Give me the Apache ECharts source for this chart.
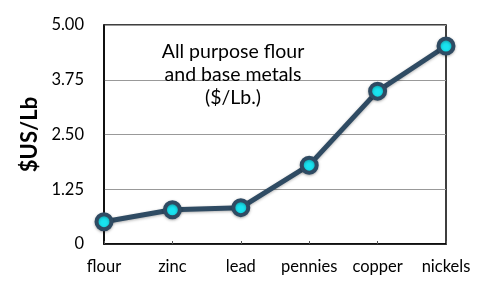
<!DOCTYPE html>
<html><head><meta charset="utf-8">
<script src="https://cdn.jsdelivr.net/npm/echarts@6/dist/echarts.min.js"></script>
<style>html,body{margin:0;padding:0;background:#fff}#c{width:500px;height:292px}</style>
</head><body><div id="c"></div>
<script>
const categories = ['flour','zinc','lead','pennies','copper','nickels'];
const prices = [0.51, 0.78, 0.83, 1.80, 3.49, 4.52];
const yTicks = [0, 1.25, 2.50, 3.75, 5.00];
const yLabels = ['0','1.25','2.50','3.75','5.00'];
const titleLines = ['All purpose flour','and base metals','($/Lb.)'];
const yTitle = '$US/Lb';

const font = 'Lato, "Open Sans", sans-serif';
const chart = echarts.init(document.getElementById('c'));
chart.setOption({
  animation:false,
  grid:{left:104,right:54,top:25,bottom:48,show:true,borderColor:'#000',borderWidth:1.5,backgroundColor:'transparent'},
  title:{text:titleLines.join('\n'),left:228,top:35,textAlign:'center',
    textStyle:{fontFamily:font,fontSize:19.5,fontWeight:'normal',color:'#000',lineHeight:23}},
  xAxis:{type:'category',data:categories,boundaryGap:false,
    axisLine:{lineStyle:{color:'#000',width:1.5}},
    axisTick:{show:true,inside:true,length:3,interval:0,lineStyle:{color:'#555'}},
    axisLabel:{fontFamily:font,fontSize:16.5,color:'#000',margin:14,interval:0,hideOverlap:false}},
  yAxis:{type:'value',min:0,max:5,interval:1.25,
    name:yTitle,nameLocation:'middle',nameGap:60,
    nameTextStyle:{fontFamily:font,fontSize:22,fontWeight:'bold',color:'#000'},
    axisLine:{show:true,lineStyle:{color:'#000',width:1.5}},
    axisTick:{show:false},
    splitLine:{lineStyle:{color:'#999',width:1}},
    axisLabel:{fontFamily:font,fontSize:16.5,color:'#000',margin:20,
      formatter:v=>{const i=yTicks.findIndex(t=>Math.abs(t-v)<1e-6);return i>=0?yLabels[i]:'';}}},
  series:[{type:'line',data:prices,symbol:'circle',symbolSize:15,
    lineStyle:{color:'#2f4b63',width:5,shadowColor:'rgba(0,0,0,0.3)',shadowBlur:3,shadowOffsetY:1},
    itemStyle:{color:'#19e3f0',borderColor:'#2f4b63',borderWidth:4,shadowColor:'rgba(0,0,0,0.3)',shadowBlur:3,shadowOffsetY:1}}]
});
</script></body></html>
